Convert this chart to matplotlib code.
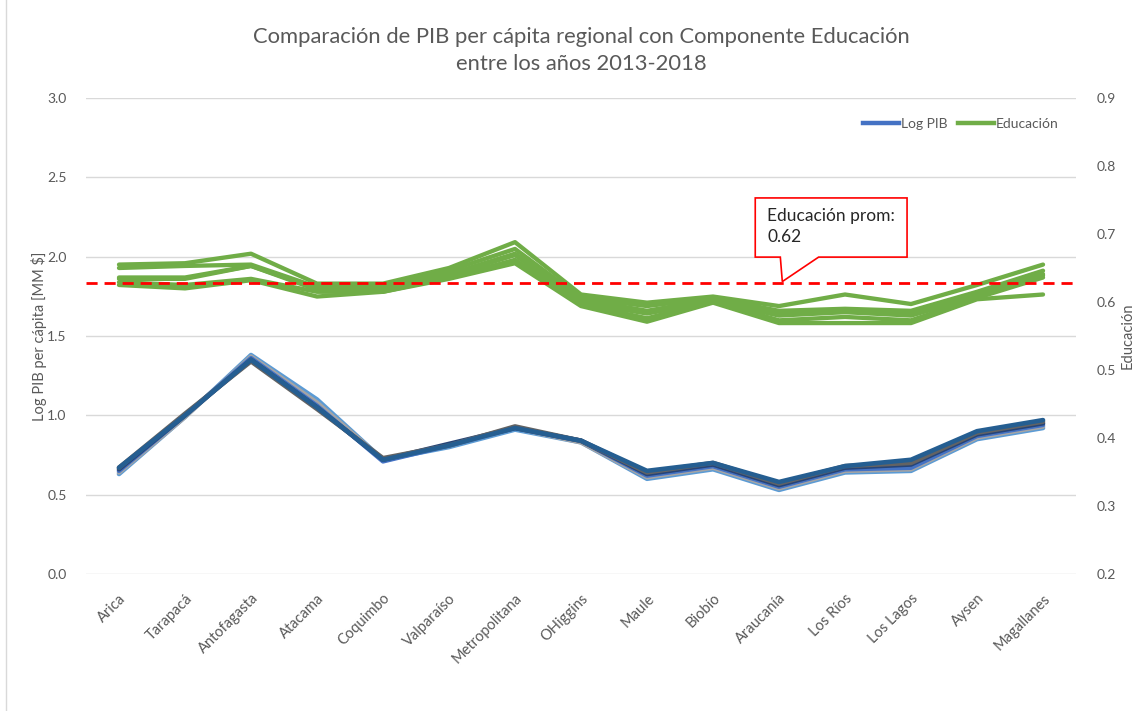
import numpy as np
import matplotlib
matplotlib.use("Agg")
import matplotlib.pyplot as plt
from matplotlib.patches import Polygon
from matplotlib.lines import Line2D
from matplotlib.transforms import ScaledTranslation

plt.rcParams['font.family'] = ['Lato', 'DejaVu Sans']

regiones = ["Arica", "Tarapacá", "Antofagasta", "Atacama", "Coquimbo", "Valparaíso",
            "Metropolitana", "OHiggins", "Maule", "Biobío", "Araucanía", "Los Ríos",
            "Los Lagos", "Aysen", "Magallanes"]
anios = [2013, 2014, 2015, 2016, 2017, 2018]

# Log PIB per capita, one list per year
log_pib = [
    [0.63, 0.99, 1.38, 1.10, 0.72, 0.80, 0.91, 0.83, 0.60, 0.66, 0.53, 0.64, 0.65, 0.85, 0.92],
    [0.64, 0.99, 1.37, 1.08, 0.72, 0.81, 0.92, 0.83, 0.61, 0.67, 0.54, 0.65, 0.66, 0.86, 0.93],
    [0.65, 1.00, 1.36, 1.06, 0.71, 0.81, 0.92, 0.84, 0.62, 0.68, 0.55, 0.66, 0.67, 0.87, 0.94],
    [0.66, 1.00, 1.35, 1.05, 0.72, 0.82, 0.92, 0.84, 0.63, 0.69, 0.56, 0.67, 0.69, 0.88, 0.95],
    [0.67, 1.01, 1.34, 1.04, 0.73, 0.81, 0.93, 0.84, 0.64, 0.70, 0.57, 0.68, 0.70, 0.89, 0.96],
    [0.67, 1.00, 1.35, 1.05, 0.72, 0.81, 0.92, 0.84, 0.65, 0.70, 0.58, 0.68, 0.72, 0.90, 0.97],
]

# Componente Educacion, one list per year
educacion = [
    [0.655, 0.657, 0.671, 0.627, 0.627, 0.650, 0.688, 0.611, 0.599, 0.608, 0.594, 0.611, 0.597, 0.625, 0.655],
    [0.650, 0.653, 0.655, 0.622, 0.625, 0.646, 0.678, 0.606, 0.594, 0.606, 0.587, 0.590, 0.587, 0.615, 0.646],
    [0.636, 0.636, 0.653, 0.620, 0.620, 0.641, 0.671, 0.604, 0.587, 0.604, 0.585, 0.587, 0.583, 0.611, 0.641],
    [0.634, 0.634, 0.653, 0.618, 0.618, 0.639, 0.669, 0.599, 0.583, 0.601, 0.580, 0.585, 0.580, 0.608, 0.639],
    [0.629, 0.625, 0.634, 0.615, 0.615, 0.636, 0.662, 0.597, 0.576, 0.601, 0.573, 0.578, 0.573, 0.606, 0.636],
    [0.625, 0.620, 0.632, 0.608, 0.615, 0.634, 0.657, 0.594, 0.571, 0.599, 0.569, 0.569, 0.569, 0.604, 0.611],
]
educ_prom = 0.628

azules = ["#5B9BD5", "#A5A5A5", "#4472C4", "#264478", "#636363", "#255E91"]
verde = "#70AD47"
gris = "#595959"

fig = plt.figure(figsize=(11.48, 7.11), dpi=100)
ax = fig.add_axes([0.0749, 0.1927, 0.8624, 0.6695])
ax2 = ax.twinx()

x = np.arange(len(regiones))
for serie, c in zip(log_pib, azules):
    ax.plot(x, serie, color=c, lw=3.3, solid_capstyle="round", solid_joinstyle="round")

for serie in educacion:
    ax2.plot(x, serie, color=verde, lw=3.1, solid_capstyle="round", solid_joinstyle="round")

ax2.axhline(educ_prom, color="#FF0000", lw=2, ls=(0, (4, 2.5)), zorder=5)

ax.set_xlim(-0.5, len(regiones) - 0.5)
ax.set_ylim(0, 3)
ax2.set_ylim(0.2, 0.9)
ax.set_yticks(np.arange(0, 3.01, 0.5))
ax.set_yticklabels([f"{v:.1f}" for v in np.arange(0, 3.01, 0.5)])
ax2.set_yticks(np.arange(0.2, 0.91, 0.1))
ax2.set_yticklabels([f"{v:.1f}" for v in np.arange(0.2, 0.91, 0.1)])
ax.grid(axis="y", color="#D9D9D9", lw=1)
ax.set_axisbelow(True)

for a in (ax, ax2):
    for s in a.spines.values():
        s.set_visible(False)
    a.tick_params(length=0, colors=gris, labelsize=10)
ax.tick_params(axis="y", pad=14)
ax2.tick_params(axis="y", pad=15)

ax.set_xticks(x)
ax.set_xticklabels(regiones, rotation=45, ha="right", va="center", rotation_mode="anchor",
                   color=gris, fontsize=10.5)
ax.tick_params(axis="x", pad=16)
# nudge labels a little to the right, like the original
desplaza = ScaledTranslation(5 / 100, 0, fig.dpi_scale_trans)
for lbl in ax.get_xticklabels():
    lbl.set_transform(lbl.get_transform() + desplaza)

ax.set_ylabel("Log PIB per cápita [MM $]", color=gris, fontsize=10.5, labelpad=0)
ax2.set_ylabel("Educación", color=gris, fontsize=10.5, labelpad=3)

fig.text(0.506, 0.948, "Comparación de PIB per cápita regional con Componente Educación",
         ha="center", va="center", fontsize=15.8, color=gris)
fig.text(0.506, 0.910, "entre los años 2013-2018", ha="center", va="center",
         fontsize=15.8, color=gris)

# callout
pts = [(9.64, 0.753), (11.94, 0.753), (11.94, 0.666), (10.6, 0.666),
       (10.05, 0.630), (10.02, 0.666), (9.64, 0.666)]
ax2.add_patch(Polygon(pts, closed=True, facecolor="white", edgecolor="#FF0000", lw=1.2, zorder=6))
ax2.text(9.82, 0.727, "Educación prom:", fontsize=12.5, color="#262626", va="center", zorder=7)
ax2.text(9.82, 0.695, "0.62", fontsize=12.5, color="#262626", va="center", zorder=7)

handles = [Line2D([], [], color="#4472C4", lw=3.2), Line2D([], [], color=verde, lw=3.2)]
leg = ax2.legend(handles, ["Log PIB", "Educación"], ncol=2, frameon=False,
                 loc="upper right", bbox_to_anchor=(0.995, 0.985), fontsize=10,
                 handlelength=2.6, handletextpad=0.1, columnspacing=0.8)
for t in leg.get_texts():
    t.set_color(gris)

fig.add_artist(Line2D([0.005, 0.005], [0, 1], transform=fig.transFigure, color="#D9D9D9", lw=1))

fig.savefig("out.png", dpi=100)
